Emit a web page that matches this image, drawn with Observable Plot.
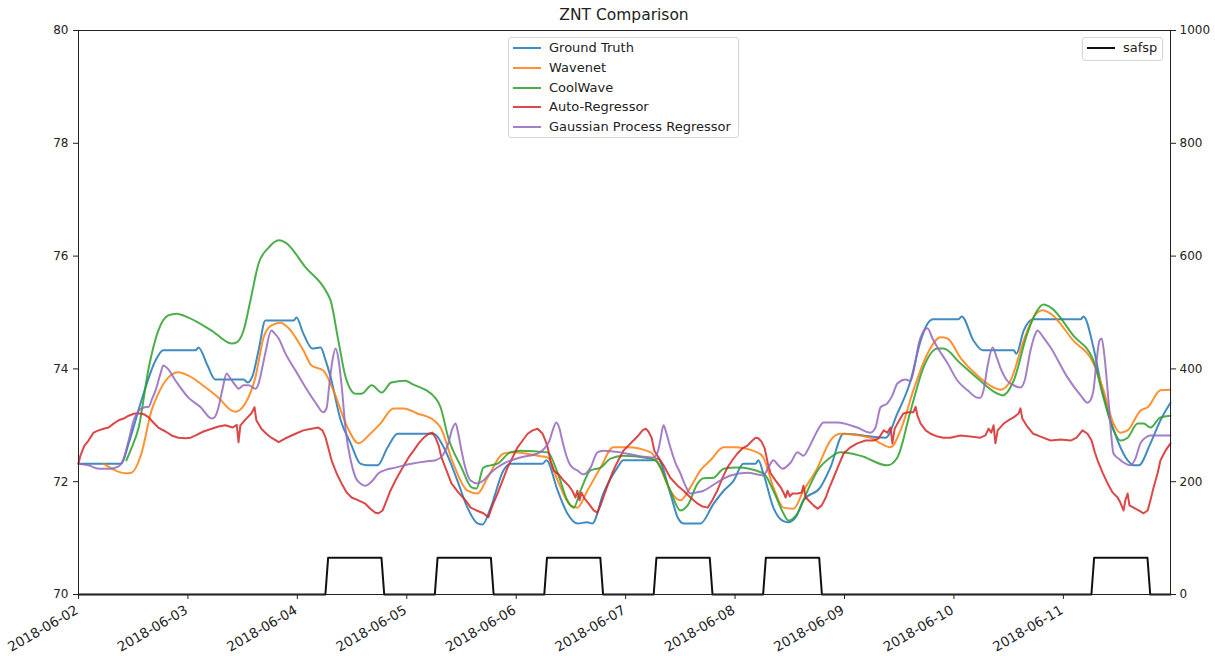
<!DOCTYPE html>
<html>
<head>
<meta charset="utf-8">
<script src="https://cdn.jsdelivr.net/npm/d3@7"></script>
<script src="https://cdn.jsdelivr.net/npm/@observablehq/plot@0.6"></script>
<style>
  html, body { margin: 0; padding: 0; background: #fff; }
  #wrap { position: relative; width: 1215px; height: 656px; font-family: "DejaVu Sans", sans-serif; color: #222; }
  #title { position: absolute; left: 0; top: 6px; width: 1248px; text-align: center; font-size: 15.5px; }
  .legend { position: absolute; background: rgba(255,255,255,0.85); border: 1px solid #d6d6d6; border-radius: 3px; box-sizing: border-box; font-size: 13px; }
  .row { position: absolute; left: 0; height: 20px; white-space: nowrap; }
  .row .sw { position: absolute; left: 4px; top: 9px; width: 28px; height: 2px; }
  .row .lb { position: absolute; left: 40px; top: 2px; line-height: 16px; }
</style>
</head>
<body>
<div id="wrap">
  <div id="title">ZNT Comparison</div>
</div>
<script>
// ---------- data (hours since 2018-06-02 00:00, value) ----------
const seriesNames = ["Ground Truth", "Wavenet", "CoolWave", "Auto-Regressor", "Gaussian Process Regressor"];
const seriesColors = ["#1f77b4", "#ff7f0e", "#2ca02c", "#d62728", "#9467bd"];
const dayTicks = ["2018-06-02","2018-06-03","2018-06-04","2018-06-05","2018-06-06","2018-06-07","2018-06-08","2018-06-09","2018-06-10","2018-06-11"];
const leftTicks = [70, 72, 74, 76, 78, 80];
const rightTicks = [0, 200, 400, 600, 800, 1000];

const groundTruth = [[0,72.32],[9.4,72.32],[11.0,72.68],[13.8,73.44],[16.9,74.15],[18.6,74.33],[25.7,74.33],[26.3,74.38],[28.3,74.06],[30.0,73.81],[36.2,73.81],[37.1,73.76],[38.2,73.88],[39.5,74.33],[41.0,74.86],[47.2,74.86],[47.8,74.91],[49.3,74.63],[51.3,74.36],[53.1,74.38],[54.2,74.15],[55.3,73.85],[57.5,73.09],[59.7,72.68],[61.8,72.32],[63.4,72.29],[65.6,72.29],[67.8,72.61],[70.0,72.85],[77.9,72.85],[80.1,72.61],[83.1,72.02],[85.3,71.54],[87.5,71.26],[88.6,71.24],[90.4,71.54],[93.2,72.20],[94.7,72.32],[101.8,72.32],[102.6,72.38],[105.1,71.84],[107.2,71.44],[109.4,71.26],[111.6,71.28],[112.7,71.26],[115.1,71.79],[118.2,72.25],[119.5,72.38],[126.1,72.38],[127.0,72.41],[129.8,71.79],[131.4,71.37],[132.7,71.26],[136.4,71.26],[139.3,71.61],[141.5,71.84],[143.7,72.02],[145.8,72.32],[148.5,72.32],[149.1,72.38],[150.2,72.15],[152.4,71.54],[154.4,71.31],[155.7,71.28],[157.3,71.37],[159.0,71.67],[162.7,71.90],[164.9,72.25],[167.8,72.85],[177.0,72.78],[179.6,73.21],[182.5,73.79],[184.7,74.50],[186.2,74.80],[187.5,74.88],[193.0,74.88],[193.7,74.93],[196.3,74.50],[198.3,74.33],[205.1,74.33],[205.7,74.27],[207.3,74.68],[209.4,74.88],[219.8,74.88],[220.4,74.93],[222.6,74.38],[224.1,73.79],[225.9,73.21],[227.9,72.73],[230.1,72.38],[231.4,72.29],[232.5,72.29],[235.1,72.68],[237.3,73.09],[239.5,73.40]];

const wavenet = [[5.5,72.32],[8.1,72.20],[10.3,72.15],[11.6,72.16],[13.8,72.50],[16.0,73.26],[17.5,73.56],[19.1,73.79],[21.9,73.94],[24.1,73.88],[27.9,73.67],[30.7,73.49],[33.6,73.26],[34.4,73.24],[36.6,73.39],[38.8,73.85],[40.6,74.56],[42.3,74.77],[44.3,74.82],[46.1,74.72],[49.3,74.33],[51.1,74.06],[53.7,73.97],[55.9,73.62],[59.0,72.96],[61.4,72.68],[64.0,72.85],[66.2,73.03],[69.1,73.30],[71.3,73.30],[74.3,73.21],[77.9,73.09],[79.4,72.96],[82.2,72.32],[85.3,71.84],[87.5,71.79],[89.7,72.07],[93.2,72.50],[95.4,72.52],[100.7,72.46],[102.9,72.43],[105.1,72.02],[107.9,71.58],[109.4,71.54],[111.6,71.84],[114.5,72.25],[117.3,72.61],[120.4,72.61],[125.5,72.52],[127.6,72.25],[129.8,71.84],[132.0,71.67],[134.2,71.90],[136.4,72.20],[138.6,72.38],[141.5,72.61],[143.7,72.61],[148.9,72.52],[150.2,72.43],[152.4,71.90],[154.6,71.54],[156.8,71.52],[159.0,71.84],[162.1,72.25],[164.9,72.73],[167.1,72.85],[173.7,72.78],[175.9,72.68],[178.1,72.61],[180.3,72.91],[183.1,73.62],[186.2,74.27],[189.1,74.56],[190.6,74.54],[193.4,74.20],[197.2,73.88],[200.7,73.67],[202.2,73.63],[204.4,73.79],[207.3,74.50],[209.4,74.91],[211.4,75.04],[213.2,74.98],[218.2,74.50],[222.6,74.10],[224.8,73.62],[227.0,73.03],[228.5,72.87],[230.1,72.91],[232.9,73.26],[234.5,73.32],[237.3,73.62],[239.5,73.63]];

const coolWave = [[10.5,72.38],[11.6,72.59],[13.2,72.96],[15.4,74.02],[17.5,74.68],[19.7,74.95],[21.5,74.98],[24.1,74.91],[29.2,74.68],[33.6,74.45],[34.7,74.47],[36.2,74.68],[37.7,75.21],[39.5,75.87],[41.7,76.15],[43.9,76.28],[45.4,76.24],[49.8,75.80],[54.2,75.39],[55.3,75.21],[57.0,74.50],[58.6,73.85],[60.8,73.56],[62.1,73.56],[64.3,73.71],[66.5,73.58],[68.6,73.76],[71.7,73.79],[73.0,73.74],[78.3,73.48],[79.4,73.32],[81.1,72.78],[84.0,72.25],[86.2,71.90],[87.3,71.88],[88.8,72.25],[90.4,72.29],[91.9,72.32],[94.7,72.52],[96.9,72.55],[102.9,72.52],[105.1,72.15],[107.2,71.67],[108.6,71.54],[110.1,71.84],[112.3,72.20],[114.5,72.25],[116.7,72.41],[119.5,72.46],[125.5,72.41],[127.0,72.34],[129.8,71.84],[132.0,71.49],[133.6,71.58],[135.8,71.97],[137.1,72.06],[139.3,72.07],[141.5,72.23],[144.5,72.25],[150.2,72.15],[152.4,71.84],[154.6,71.44],[155.7,71.31],[157.7,71.44],[159.9,71.84],[162.1,72.20],[164.9,72.43],[167.1,72.52],[171.5,72.46],[177.4,72.29],[179.6,72.43],[182.5,73.26],[185.3,74.02],[188.4,74.36],[189.7,74.36],[193.4,74.10],[197.2,73.83],[201.6,73.56],[202.7,73.53],[205.1,73.79],[208.1,74.63],[210.3,75.04],[211.6,75.14],[213.2,75.09],[218.2,74.59],[222.6,74.15],[224.8,73.49],[227.0,72.91],[228.5,72.73],[230.1,72.78],[232.3,73.03],[233.6,73.03],[235.1,72.96],[237.3,73.14],[239.5,73.17]];

const autoRegressor = [[0,72.32],[0.4,72.46],[1.3,72.64],[2.2,72.73],[3.3,72.87],[4.4,72.91],[5.5,72.94],[6.6,72.96],[7.7,73.03],[8.8,73.09],[9.9,73.12],[11.0,73.17],[12.3,73.21],[13.6,73.21],[14.5,73.19],[15.4,73.14],[16.4,73.05],[17.5,72.96],[19.1,72.89],[20.4,72.82],[21.9,72.78],[23.5,72.77],[24.6,72.78],[25.7,72.82],[27.4,72.89],[29.2,72.94],[30.7,72.98],[32.2,73.00],[33.8,72.96],[34.7,73.01],[35.1,72.70],[35.5,73.00],[36.6,73.10],[37.9,73.21],[38.6,73.32],[39.0,73.09],[40.1,72.94],[41.2,72.85],[42.3,72.78],[43.9,72.70],[45.4,72.77],[47.6,72.85],[49.3,72.91],[51.1,72.94],[52.6,72.96],[53.5,72.91],[54.2,72.78],[55.5,72.38],[56.6,72.15],[57.7,71.97],[58.8,71.81],[59.9,71.72],[61.4,71.67],[62.9,71.61],[64.0,71.52],[65.1,71.45],[65.8,71.44],[66.7,71.49],[67.3,71.61],[68.4,71.84],[69.5,72.02],[71.1,72.25],[72.4,72.43],[73.5,72.55],[74.6,72.68],[75.7,72.78],[76.8,72.85],[77.6,72.87],[78.3,72.78],[79.0,72.64],[79.6,72.43],[80.7,72.20],[81.8,71.97],[83.3,71.81],[84.9,71.67],[86.0,71.54],[87.3,71.49],[88.8,71.44],[89.9,71.37],[90.8,71.58],[91.9,71.79],[93.0,72.02],[94.1,72.25],[95.2,72.43],[96.3,72.61],[97.4,72.73],[98.5,72.85],[99.6,72.91],[100.7,72.94],[101.8,72.85],[102.4,72.73],[102.9,72.61],[103.5,72.38],[104.2,72.20],[105.3,72.13],[106.4,72.02],[107.5,71.93],[108.3,71.84],[109.0,71.72],[109.4,71.84],[109.9,71.67],[110.3,71.81],[111.0,71.70],[111.9,71.61],[113.0,71.49],[113.8,71.45],[114.5,71.58],[115.1,71.72],[116.2,71.97],[117.3,72.20],[118.4,72.38],[119.5,72.55],[120.6,72.64],[121.7,72.73],[122.8,72.82],[123.7,72.91],[124.4,72.94],[125.0,72.89],[125.7,72.78],[126.3,72.55],[127.0,72.46],[128.3,72.29],[129.8,72.07],[131.4,71.93],[132.7,71.84],[134.2,71.72],[135.8,71.61],[136.9,71.56],[138.0,71.54],[139.0,71.67],[140.1,71.84],[141.2,72.06],[142.3,72.25],[143.4,72.38],[144.5,72.50],[145.6,72.59],[146.7,72.64],[147.8,72.73],[148.5,72.78],[149.1,72.77],[149.8,72.71],[150.5,72.59],[151.2,72.32],[151.8,72.15],[152.9,72.02],[154.0,71.90],[154.6,71.81],[155.1,71.72],[155.5,71.84],[156.0,71.74],[156.6,71.79],[157.7,71.79],[158.6,71.81],[159.0,71.93],[159.5,71.72],[160.1,71.67],[161.2,71.58],[162.1,71.52],[163.0,71.58],[163.9,71.72],[164.7,71.90],[165.6,72.07],[166.7,72.29],[167.8,72.50],[169.3,72.61],[170.8,72.68],[172.6,72.73],[174.4,72.73],[175.5,72.77],[176.6,72.91],[177.4,72.87],[178.1,72.96],[178.5,72.68],[179.0,72.94],[179.6,73.03],[180.9,73.21],[182.0,73.23],[183.1,73.23],[183.6,73.33],[184.0,73.17],[184.7,73.03],[185.8,72.91],[186.9,72.85],[188.4,72.80],[189.7,72.78],[191.2,72.78],[193.4,72.82],[195.6,72.80],[197.8,72.78],[198.9,72.82],[199.6,72.94],[200.2,72.87],[200.7,73.00],[201.1,72.68],[201.6,72.91],[202.9,73.03],[204.0,73.09],[205.1,73.14],[206.2,73.21],[206.6,73.30],[207.0,73.12],[207.9,73.00],[209.4,72.85],[211.0,72.80],[213.2,72.73],[215.4,72.75],[217.6,72.73],[218.9,72.78],[220.2,72.91],[221.3,72.85],[222.2,72.73],[222.9,72.52],[223.5,72.38],[224.6,72.16],[225.7,71.97],[226.8,71.81],[227.9,71.72],[228.5,71.63],[229.2,71.49],[229.6,71.67],[230.1,71.79],[230.5,71.58],[231.4,71.54],[232.5,71.49],[233.6,71.44],[234.5,71.49],[235.1,71.67],[235.8,71.90],[236.7,72.16],[237.3,72.38],[238.4,72.55],[239.5,72.68]];

const gaussianProcess = [[0,72.32],[2.2,72.29],[4.4,72.23],[7.0,72.23],[8.8,72.27],[10.1,72.46],[11.0,72.73],[12.1,73.09],[13.2,73.26],[14.5,73.32],[15.4,73.33],[16.2,73.48],[16.9,73.62],[18.0,73.92],[18.6,74.06],[19.5,74.01],[21.3,73.79],[24.1,73.49],[26.8,73.32],[29.2,73.12],[30.0,73.16],[30.7,73.32],[31.6,73.65],[32.5,73.92],[33.3,73.83],[34.4,73.71],[35.1,73.65],[36.2,73.71],[37.3,73.71],[38.8,73.65],[39.5,73.74],[40.4,74.06],[41.0,74.29],[42.3,74.68],[43.0,74.63],[43.9,74.54],[45.4,74.27],[47.6,73.97],[49.8,73.67],[52.0,73.40],[53.7,73.23],[54.4,73.30],[55.0,73.71],[55.7,74.15],[56.4,74.36],[57.0,74.18],[57.7,73.71],[58.6,72.91],[59.7,72.38],[60.8,72.07],[61.8,71.97],[62.9,71.93],[64.5,72.02],[65.8,72.15],[67.8,72.22],[69.5,72.25],[73.0,72.32],[76.1,72.36],[78.3,72.38],[79.8,72.46],[81.1,72.68],[82.0,72.94],[82.7,73.03],[83.3,72.85],[84.0,72.55],[84.9,72.23],[86.0,72.02],[87.5,71.97],[88.8,72.02],[90.4,72.16],[93.2,72.32],[96.9,72.43],[100.7,72.50],[102.4,72.61],[103.3,72.73],[104.0,72.91],[104.8,73.05],[105.5,72.94],[106.1,72.73],[107.0,72.46],[107.9,72.29],[109.4,72.20],[110.8,72.13],[112.3,72.25],[113.8,72.52],[115.1,72.55],[118.9,72.52],[122.6,72.46],[126.1,72.43],[127.0,72.52],[127.6,72.73],[128.3,73.00],[128.9,72.87],[129.8,72.61],[130.9,72.34],[132.0,72.15],[133.1,71.93],[134.2,71.79],[135.5,71.81],[137.1,71.84],[140.1,71.99],[143.0,72.11],[146.7,72.16],[150.2,72.11],[151.3,72.25],[152.4,72.38],[153.5,72.29],[154.4,72.23],[156.2,72.34],[157.7,72.52],[159.0,72.46],[160.1,72.59],[161.2,72.77],[162.3,72.94],[163.4,73.05],[166.5,73.05],[170.8,72.96],[173.7,72.87],[174.8,72.96],[175.9,73.32],[177.4,73.39],[178.5,73.53],[179.6,73.74],[181.4,73.81],[182.5,73.79],[183.4,74.06],[184.3,74.45],[185.2,74.65],[186.2,74.72],[187.3,74.54],[188.4,74.38],[190.6,74.10],[192.8,73.79],[195.0,73.62],[197.2,73.49],[197.8,73.49],[198.5,73.62],[199.4,74.06],[200.5,74.38],[201.4,74.20],[202.2,74.02],[203.7,73.79],[205.1,73.71],[206.6,73.67],[207.5,73.79],[208.8,74.33],[209.9,74.63],[210.3,74.68],[211.6,74.56],[213.2,74.38],[216.9,73.85],[219.8,73.53],[221.3,73.40],[221.9,73.44],[222.6,73.62],[223.3,74.15],[223.9,74.50],[224.4,74.54],[225.0,74.24],[225.9,73.44],[227.0,72.50],[228.1,72.41],[229.2,72.34],[230.7,72.29],[231.8,72.41],[232.9,72.68],[234.0,72.78],[235.1,72.82],[237.3,72.82],[239.5,72.82]];

// safsp (right axis, 0-1000)
const safsp = [[0,0],[54.15,0],[54.75,65],[66.45,65],[67.05,0],[78.15,0],[78.75,65],[90.45,65],[91.05,0],[102.15,0],[102.75,65],[114.45,65],[115.05,0],[126.15,0],[126.75,65],[138.45,65],[139.05,0],[150.15,0],[150.75,65],[162.45,65],[163.05,0],[222.15,0],[222.75,65],[234.45,65],[235.05,0],[239.5,0]];

// ---------- build ----------
const t0 = Date.UTC(2018, 5, 2);
const toDate = h => new Date(t0 + h * 3600000);
const allSeries = [groundTruth, wavenet, coolWave, autoRegressor, gaussianProcess];
const rows = [];
allSeries.forEach((s, i) => s.forEach(([h, v]) => rows.push({t: toDate(h), v, name: seriesNames[i]})));
const safspRows = safsp.map(([h, v]) => ({t: toDate(h), v}));
const rightToLeft = v => 70 + v / 100;
const dayDates = dayTicks.map(s => new Date(s + "T00:00:00Z"));

const marks = [];
allSeries.forEach((s, i) => {
  marks.push(Plot.line(rows.filter(r => r.name === seriesNames[i]), {
    x: "t", y: "v", stroke: seriesColors[i], strokeWidth: 2, strokeOpacity: 0.85,
    curve: i === 3 ? "linear" : "monotone-x"
  }));
});
marks.push(Plot.line(safspRows, {x: "t", y: d => rightToLeft(d.v), stroke: "#111", strokeWidth: 2}));
marks.push(Plot.frame({stroke: "#222", strokeWidth: 1}));
marks.push(Plot.axisY(leftTicks, {anchor: "left", tickSize: 5, tickPadding: 5, tickFormat: d => String(d), fontSize: 12}));
marks.push(Plot.axisY(rightTicks.map(rightToLeft), {anchor: "right", tickSize: 5, tickPadding: 4,
  tickFormat: (d, i) => String(rightTicks[i]), fontSize: 12}));
marks.push(Plot.axisX(dayDates, {anchor: "bottom", tickSize: 5, tickFormat: () => ""}));
marks.push(Plot.text(dayDates, {x: d => d, frameAnchor: "bottom", text: (d, i) => dayTicks[i],
  textAnchor: "end", lineAnchor: "top", rotate: -30, dx: -4, dy: 10, fontSize: 13.5, fill: "#222"}));

const chart = Plot.plot({
  width: 1215, height: 656,
  marginLeft: 78, marginRight: 45, marginTop: 30, marginBottom: 62,
  style: {fontFamily: "DejaVu Sans", fontSize: "12px", color: "#222", background: "#fff"},
  x: {type: "utc", domain: [toDate(0), toDate(239.5)], label: null},
  y: {domain: [70, 80], label: null},
  marks
});
const wrap = document.getElementById("wrap");
chart.style.position = "absolute"; chart.style.left = "0"; chart.style.top = "0";
wrap.insertBefore(chart, wrap.firstChild);

// legends
function legend(names, colors, left, top, width, height, rowH) {
  const box = document.createElement("div");
  box.className = "legend";
  Object.assign(box.style, {left: left + "px", top: top + "px", width: width + "px", height: height + "px"});
  names.forEach((n, i) => {
    const r = document.createElement("div");
    r.className = "row";
    r.style.top = (0 + i * rowH) + "px";
    r.innerHTML = `<div class="sw" style="background:${colors[i]};opacity:${colors[i] === "#111" ? 1 : 0.85}"></div><div class="lb">${n}</div>`;
    box.appendChild(r);
  });
  wrap.appendChild(box);
}
legend(seriesNames, seriesColors, 508, 37, 231, 101, 19.8);
legend(["safsp"], ["#111"], 1082, 37, 81, 24, 20);
</script>
</body>
</html>
